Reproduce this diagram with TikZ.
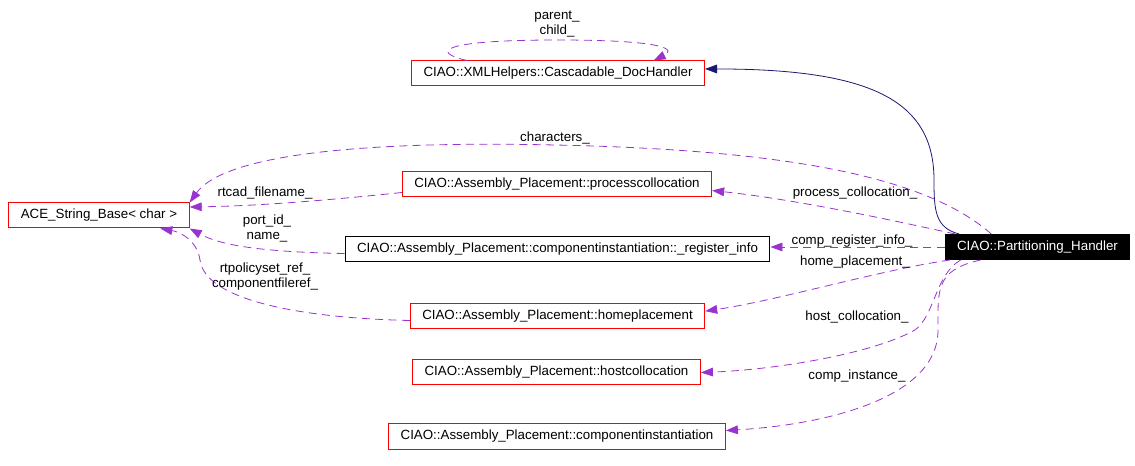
\documentclass[tikz,border=0pt]{standalone}
\usepackage{fontspec}
\setmainfont{Liberation Sans}
\usetikzlibrary{arrows.meta}
\definecolor{orchid}{RGB}{154,50,205}
\definecolor{navy}{RGB}{25,25,112}

\begin{document}
\begin{tikzpicture}[x=0.75pt,y=-0.75pt,font=\fontsize{10}{11}\selectfont,
  redbox/.style={draw=red,line width=0.75pt,minimum height=18.75pt,inner xsep=9pt},
  blackbox/.style={draw=black,line width=0.75pt,minimum height=18.75pt,inner xsep=9pt},
  member/.style={draw=orchid,line width=0.6pt,dash pattern=on 6pt off 4pt,-{Triangle[length=9pt,width=6.5pt]}},
  inherit/.style={draw=navy,line width=0.6pt,-{Triangle[length=9pt,width=6.5pt]}},
  lbl/.style={align=center,inner sep=0pt}]
\useasboundingbox (0,0) rectangle (1135,466);

\node[redbox] (cd) at (558,73.5) {CIAO::XMLHelpers::Cascadable\_DocHandler};
\node[redbox] (ace) at (99,215.5) {ACE\_String\_Base< char >};
\node[redbox] (pc) at (557,184.5) {CIAO::Assembly\_Placement::processcollocation};
\node[blackbox] (ri) at (557.5,249.5) {CIAO::Assembly\_Placement::componentinstantiation::\_register\_info};
\node[blackbox,fill=black,text=white] (ph) at (1037.5,247) {CIAO::Partitioning\_Handler};
\node[redbox] (hp) at (557.5,316.5) {CIAO::Assembly\_Placement::homeplacement};
\node[redbox] (hc) at (556.5,372.5) {CIAO::Assembly\_Placement::hostcollocation};
\node[redbox] (ci) at (557,436.5) {CIAO::Assembly\_Placement::componentinstantiation};

% self loop on the doc handler
\draw[member] ([xshift=42pt]cd.north west) .. controls (430,52) and (440,40) .. (557,40)
  .. controls (670,40) and (675,50) .. ([xshift=182pt]cd.north west);
\node[lbl] (l-parent) at (557,24) {parent\_\\child\_};

% base class
\draw[inherit] ([xshift=11pt]ph.north west) .. controls (935,228) and (934,210) .. (934,180)
  .. controls (934,100) and (870,69) .. ([yshift=3.4pt]cd.east);

% members of the handler
\draw[member] ([xshift=35pt]ph.north west) .. controls (930,180) and (800,150) .. (555,145)
  .. controls (330,140) and (220,160) .. (ace.north east);
\node[lbl] (l-char) at (555,138) {characters\_};

\draw[member] ([xshift=8pt]ph.north west) .. controls (900,222) and (800,200) .. ([yshift=-4.5pt]pc.east);
\node[lbl] (l-proc) at (855,193) {process\_collocation\_};

\draw[member] (ph.west) -- (ph.west -| ri.east);
\node[lbl] (l-reg) at (852,241) {comp\_register\_info\_};

\draw[member] ([xshift=4pt]ph.south west) .. controls (880,270) and (780,300) .. ([yshift=4pt]hp.east);
\node[lbl] (l-home) at (855,262) {home\_placement\_};

\draw[member] ([xshift=12pt]ph.south west) .. controls (935,275) and (935,315) .. (915,330)
  .. controls (870,355) and (770,370) .. (hc.east);
\node[lbl] (l-host) at (857,317) {host\_collocation\_};

\draw[member] ([xshift=27pt]ph.south west) .. controls (935,270) and (938,290) .. (938,330)
  .. controls (938,400) and (820,425) .. ([yshift=4.5pt]ci.east);
\node[lbl] (l-inst) at (857,376) {comp\_instance\_};

%%%%%%%%%%%%%%%%%%%%%%%%%%%%%%%%%%%%%%%%%%%%%%%%%%%%%%%%%%%%%%%%%%%%%%%%%%%%%%%%
% strings held by the placement classes
\draw[member] ([yshift=-6pt]pc.west) .. controls (330,200) and (260,206) .. ([yshift=6.4pt]ace.east);
\node[lbl] (l-rtcad) at (265,193) {rtcad\_filename\_};

\draw[member] ([yshift=-3pt]ri.west) .. controls (260,252) and (220,245) .. (ace.south east);
\node[lbl] (l-port) at (267,228.5) {port\_id\_\\name\_};

\draw[member] ([yshift=-3pt]hp.west) .. controls (300,318) and (205,300) .. (200,260)
  .. controls (197,240) and (180,232) .. ([xshift=46pt]ace.south);
\node[lbl] (l-rtpol) at (265,276.5) {rtpolicyset\_ref\_\\componentfileref\_};
\end{tikzpicture}
\end{document}
